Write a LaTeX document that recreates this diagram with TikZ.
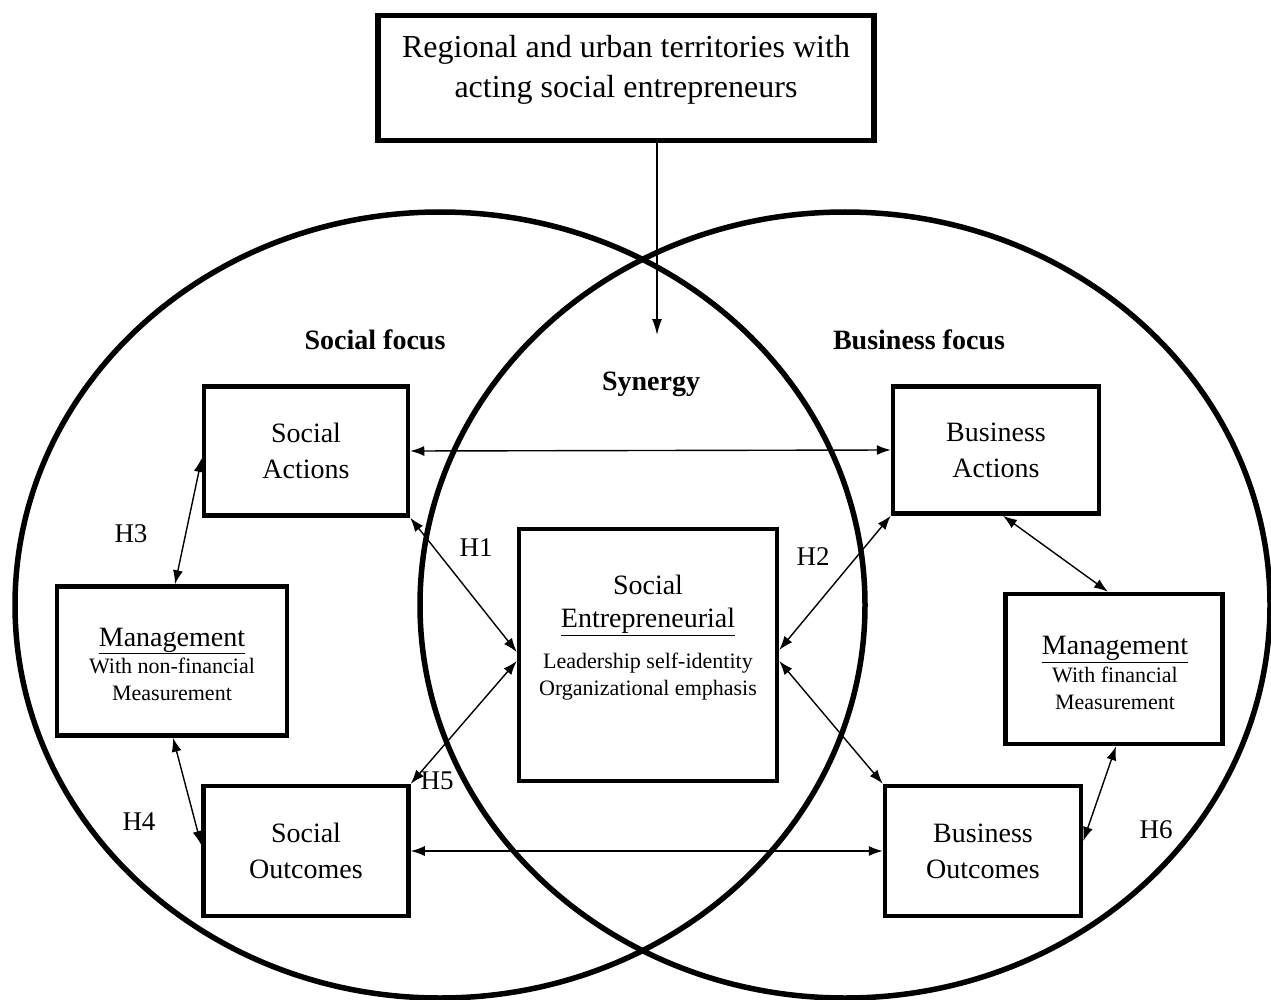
\documentclass[tikz,border=0pt]{standalone}
\usepackage{fontspec}
\setmainfont{Liberation Serif}
\usetikzlibrary{arrows.meta}

\begin{document}
\begin{tikzpicture}[
    , x = 1pt
    , y = -1pt
    , ring/.style = {line width = 5.5pt}
    , n/.style = {
      , draw
      , line width = 4.5pt
      , inner sep = 0pt
      , align = center
      , font = \fontsize{28}{36}\selectfont
    }
    , small/.style = {align = center, font = \fontsize{22}{27}\selectfont}
    , hyp/.style = {font = \fontsize{27}{30}\selectfont}
    , focus/.style = {font = \fontsize{28}{32}\selectfont\bfseries}
    , link/.style = {
      , {Latex[length=14pt, width=10pt]}-{Latex[length=14pt, width=10pt]}
      , line width = 1.4pt
    }
  ]
    \useasboundingbox (0,0) rectangle (1271,1000);

    % the two focus areas
    \draw [ring] (440,605) ellipse [x radius = 425, y radius = 393];
    \draw [ring] (845,605) ellipse [x radius = 425, y radius = 393];

    % territories on top
    \node (terr) [n, line width = 5.5pt, minimum width = 496, minimum height = 125] at (626,78) {};
    \node (terr-txt) [align = center, font = \fontsize{32}{40}\selectfont] at (626,70)
      {Regional and urban territories with\\acting social entrepreneurs};
    \coordinate (syn-in) at (657,335);
    \draw [-{Latex[length=16pt, width=10pt]}, line width = 1.4pt] (terr.south -| syn-in) -- (syn-in);

    \node (soc-focus) [focus] at (375,340) {Social focus};
    \node (bus-focus) [focus] at (919,340) {Business focus};
    \node (synergy) [focus] at (651,384) {Synergy};

    % boxes
    \node (soc-act) [n, minimum width = 204, minimum height = 129] at (306,451) {Social\\Actions};
    \node (bus-act) [n, minimum width = 206, minimum height = 127] at (996,450) {Business\\Actions};
    \node (soc-out) [n, minimum width = 205, minimum height = 130] at (306,851) {Social\\Outcomes};
    \node (bus-out) [n, minimum width = 196, minimum height = 130] at (983,851) {Business\\Outcomes};
    \node (mgmt-s) [n, minimum width = 230, minimum height = 149] at (172,661) {};
    \node (mgmt-s-txt) [small] at (172,664)
      {{\fontsize{28}{34}\selectfont\underline{Management}}\\With non-financial\\Measurement};
    \node (mgmt-b) [n, minimum width = 217, minimum height = 150] at (1114,669) {};
    \node (mgmt-b-txt) [small] at (1115,673)
      {{\fontsize{28}{34}\selectfont\underline{Management}}\\[1pt]With financial\\Measurement};
    \node (entre) [n, minimum width = 258, minimum height = 252] at (648,655) {};
    \node (entre-txt) [small] at (648,638)
      {{\fontsize{28}{34}\selectfont Social}\\[6pt]{\fontsize{28}{34}\selectfont\underline{Entrepreneurial}}\\[14pt]Leadership self-identity\\Organizational emphasis};

    % links
    \draw [link] (soc-act.east) -- (bus-act.west);
    \draw [link] (soc-out.east) -- (bus-out.west);
    \draw [link] ([yshift=-7pt]soc-act.west) -- ([xshift=3pt]mgmt-s.north);
    \draw [link] ([xshift=1pt]mgmt-s.south) -- ([yshift=6pt]soc-out.west);
    \draw [link] (soc-act.south east) -- ([yshift=3pt]entre.west);
    \draw [link] (soc-out.north east) -- ([yshift=-6pt]entre.west);
    \draw [link] (bus-act.south west) -- ([yshift=5pt]entre.east);
    \draw [link] ([yshift=-6pt]entre.east) -- (bus-out.north west);
    \draw [link] ([xshift=7pt]bus-act.south) -- ([xshift=-6pt]mgmt-b.north);
    \draw [link] ([xshift=2pt]mgmt-b.south) -- ([yshift=10pt]bus-out.east);

    % hypotheses
    \node (h1) [hyp] at (476,548) {H1};
    \node (h2) [hyp] at (813,557) {H2};
    \node (h3) [hyp] at (131,534) {H3};
    \node (h4) [hyp] at (139,822) {H4};
    \node (h5) [hyp] at (437,781) {H5};
    \node (h6) [hyp] at (1156,830) {H6};
  \end{tikzpicture}
\end{document}
